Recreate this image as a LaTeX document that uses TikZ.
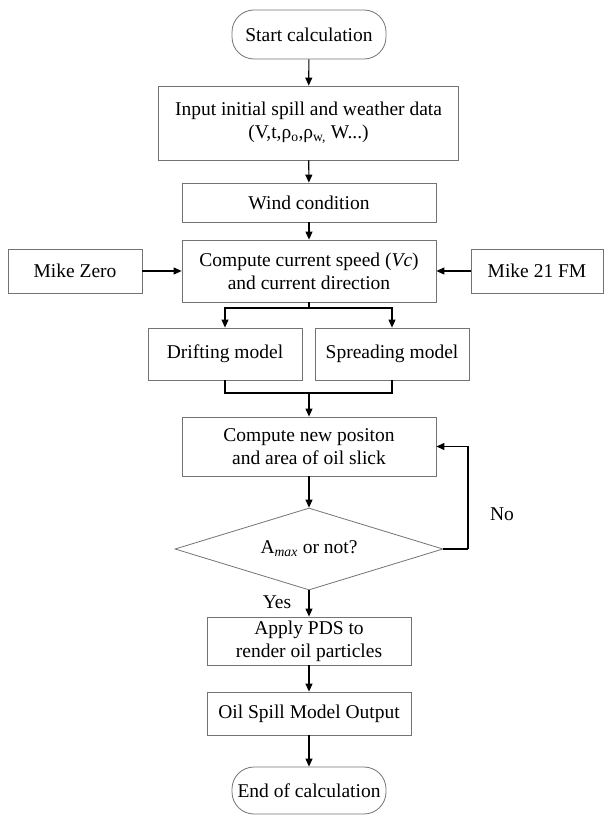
\documentclass[tikz,border=0pt]{standalone}
\usepackage{fontspec}
\setmainfont{Liberation Serif}
\usetikzlibrary{shapes.geometric,arrows.meta}
\begin{document}
\begin{tikzpicture}[x=1pt,y=-1pt,
  every node/.style={font=\fontsize{19.5}{23}\selectfont},
  box/.style={draw=black!55,line width=0.8pt,rectangle,inner sep=2pt,align=center},
  term/.style={box,rounded corners=22pt},
  dia/.style={draw=black!55,line width=0.8pt,shape=diamond,aspect=3.3,inner sep=0pt,minimum width=268pt,minimum height=82pt},
  conn/.style={draw=black,line width=1.1pt},
  arr/.style={conn,-{Triangle[length=8pt,width=7pt]}},
  lbl/.style={inner sep=0pt}
]
\useasboundingbox (0,0) rectangle (604,818);
\node[term,minimum width=154pt,minimum height=49pt] (start) at (309,34.5) {Start calculation};
\node[box,minimum width=300pt,minimum height=74pt] (input) at (308.5,123) {Input initial spill and weather data\\(V,t,ρ\textsubscript{o},ρ\textsubscript{w,} W...)};
\node[box,minimum width=254pt,minimum height=39pt] (wind) at (309,202.5) {Wind condition};
\node[box,minimum width=254pt,minimum height=62pt] (comp) at (309,271) {Compute current speed (\textit{Vc})\\and current direction};
\node[box,minimum width=134pt,minimum height=44pt] (mz) at (75,271) {Mike Zero};
\node[box,minimum width=132pt,minimum height=44pt] (mf) at (537,271) {Mike 21 FM};
\node[box,minimum width=154pt,minimum height=52pt] (drift) at (225,354) {Drifting model};
\node[box,minimum width=154pt,minimum height=52pt] (spread) at (392,354) {Spreading model};
\node[box,minimum width=254pt,minimum height=59pt] (newpos) at (309,446.5) {Compute new positon\\and area of oil slick};
\node[dia] (dec) at (309,549) {A\textsubscript{\textit{max}} or not?};
\node[box,minimum width=204pt,minimum height=48pt] (apply) at (309,641) {Apply PDS to\\render oil particles};
\node[box,minimum width=204pt,minimum height=43pt] (out) at (309,713.5) {Oil Spill Model Output};
\node[term,minimum width=154pt,minimum height=47pt] (end) at (309,790.5) {End of calculation};
\node[lbl] (yes) at (277,602) {Yes};
\node[lbl] (no) at (502,514) {No};
\coordinate (split) at (309,308);
\coordinate (merge) at (309,393);
\coordinate (loop) at (468,549);
\draw[arr] (start) -- (input);
\draw[arr] (input) -- (wind);
\draw[arr] (wind) -- (comp);
\draw[arr] (mz) -- (comp);
\draw[arr] (mf) -- (comp);
\draw[conn] (comp.south) -- (split);
\draw[arr] (split) -| (drift.north);
\draw[arr] (split) -| (spread.north);
\draw[conn] (drift.south) |- (merge);
\draw[conn] (spread.south) |- (merge);
\draw[arr] (merge) -- (newpos.north);
\draw[arr] (newpos) -- (dec.north);
\draw[conn] (dec.east) -- (loop);
\draw[arr] (loop) |- (newpos.east);
\draw[arr] (dec.south) -- (apply);
\draw[arr] (apply) -- (out);
\draw[arr] (out) -- (end);
\end{tikzpicture}
\end{document}
